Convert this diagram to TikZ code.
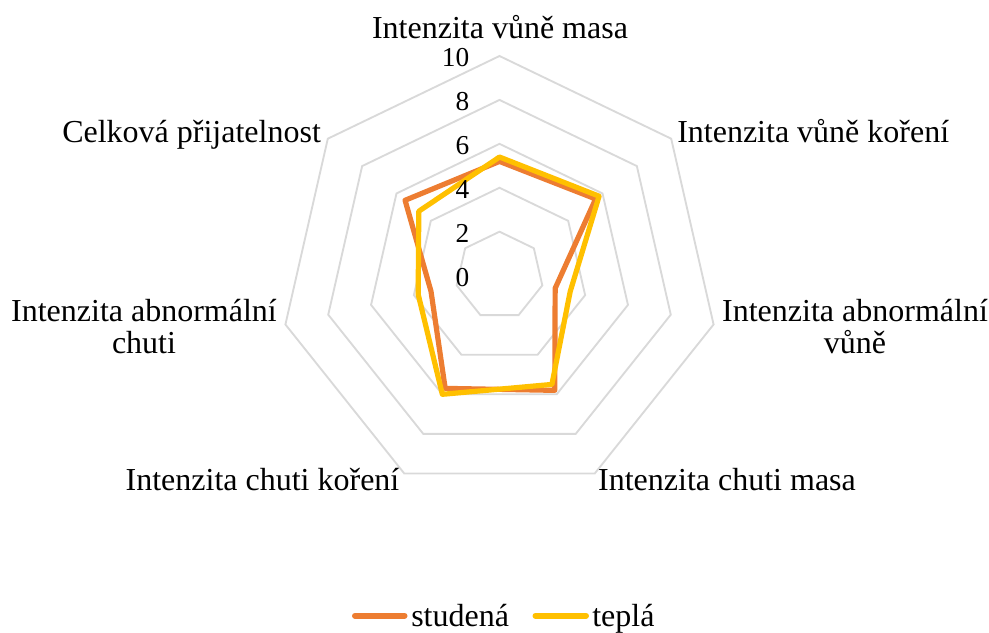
\documentclass[tikz,border=0pt]{standalone}
\usepackage{fontspec}
\setmainfont{Liberation Serif}
\definecolor{cOrange}{HTML}{ED7D31}
\definecolor{cYellow}{HTML}{FFC000}
\definecolor{cGrid}{HTML}{D9D9D9}
\begin{document}
\begin{tikzpicture}[x=0.75pt,y=-0.75pt,
  ring/.style={draw=cGrid,line width=1.4pt,line join=miter},
  oline/.style={draw=cOrange,line width=3.9pt,line join=round},
  yline/.style={draw=cYellow,line width=3.9pt,line join=round},
  lbl/.style={inner sep=0pt,font=\fontsize{24}{23.3}\selectfont},
  tick/.style={inner sep=0pt,font=\fontsize{20.5}{24}\selectfont,anchor=base east},
  legline/.style={line width=4.5pt,line cap=round}]
\useasboundingbox (0,0) rectangle (989,632);
\def\u{21.96}
\begin{scope}[shift={(499.5,275.6)},yscale=-1]
  \foreach \v in {2,4,6,8,10}{
    \draw[ring] (90:{\v*\u}) \foreach \k in {1,...,6}{ -- ({90-\k*360/7}:{\v*\u}) } -- cycle;
  }
  % studena
  \coordinate (o1) at (90:{5.2*\u});
  \coordinate (o2) at ({90-1*360/7}:{5.6*\u});
  \coordinate (o3) at ({90-2*360/7}:{2.6*\u});
  \coordinate (o4) at ({90-3*360/7}:{5.8*\u});
  \coordinate (o5) at ({90-4*360/7}:{5.7*\u});
  \coordinate (o6) at ({90-5*360/7}:{3.2*\u});
  \coordinate (o7) at ({90-6*360/7}:{5.5*\u});
  % tepla
  \coordinate (y1) at (90:{5.4*\u});
  \coordinate (y2) at ({90-1*360/7}:{5.8*\u});
  \coordinate (y3) at ({90-2*360/7}:{3.3*\u});
  \coordinate (y4) at ({90-3*360/7}:{5.5*\u});
  \coordinate (y5) at ({90-4*360/7}:{6.0*\u});
  \coordinate (y6) at ({90-5*360/7}:{3.8*\u});
  \coordinate (y7) at ({90-6*360/7}:{4.7*\u});
  \draw[oline] (o1) -- (o2) -- (o3) -- (o4) -- (o5) -- (o6) -- (o7) -- cycle;
  \draw[yline] (y1) -- (y2) -- (y3) -- (y4) -- (y5) -- (y6) -- (y7) -- cycle;
\end{scope}
% tick labels
\node[tick] (t10) at (469.5,66) {10};
\node[tick] (t8) at (469.5,110) {8};
\node[tick] (t6) at (469.5,154) {6};
\node[tick] (t4) at (469.5,198) {4};
\node[tick] (t2) at (469.5,242) {2};
\node[tick] (t0) at (469.5,286) {0};
% axis labels
\node[lbl,anchor=base] (l1) at (500,38) {Intenzita vůně masa};
\node[lbl,anchor=base west] (l2) at (677,142) {Intenzita vůně koření};
\node[lbl,anchor=base,align=center] (l3) at (855,353) {Intenzita abnormální\\vůně};
\node[lbl,anchor=base] (l4) at (727,490) {Intenzita chuti masa};
\node[lbl,anchor=base] (l5) at (262.5,490) {Intenzita chuti koření};
\node[lbl,anchor=base,align=center] (l6) at (144,353) {Intenzita abnormální\\chuti};
\node[lbl,anchor=base west] (l7) at (62,142) {Celková přijatelnost};
% legend
\coordinate (la) at (355,615.7);
\coordinate (lb) at (404.5,615.7);
\coordinate (lc) at (535.5,615.7);
\coordinate (ld) at (586,615.7);
\draw[legline,cOrange] (la) -- (lb);
\draw[legline,cYellow] (lc) -- (ld);
\node[lbl,anchor=base west] (s1) at (411,626) {studená};
\node[lbl,anchor=base west] (s2) at (592,626) {teplá};
\end{tikzpicture}
\end{document}
